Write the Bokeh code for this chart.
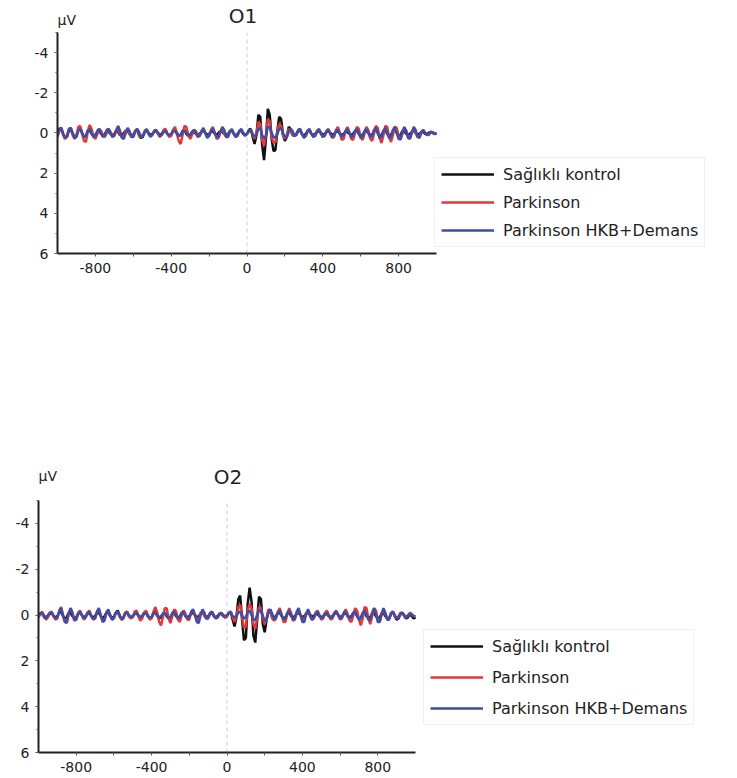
from bokeh.plotting import figure
from bokeh.models import Range1d, Label, Legend, LegendItem, FixedTicker
from bokeh.embed import file_html
from bokeh.resources import INLINE

# ---------------- data ----------------
time_ms = list(range(-1000, 1001, 10))
x_limits = (-1000, 1000)
y_limits = (-5, 6)
event_onset_ms = 0
x_ticks = [-800, -600, -400, -200, 0, 200, 400, 600, 800]
x_tick_labels = {-800: "-800", -600: "", -400: "-400", -200: "", 0: "0",
                 200: "", 400: "400", 600: "", 800: "800"}
y_ticks = [-4, -2, 0, 2, 4, 6]
y_minor_ticks = [-5, -3, -1, 1, 3, 5]
y_tick_labels = {-4: "-4", -2: "-2", 0: "0", 2: "2", 4: "4", 6: "6"}
series_names = ["Sağlıklı kontrol", "Parkinson", "Parkinson HKB+Demans"]
panel_titles = ["O1", "O2"]
unit_label = "µV"

o1_kontrol = [
    0.1, -0.2, -0.25, 0.05, 0.25, 0.2, -0.1, -0.2, 0.05, 0.2,
    0.15, -0.15, -0.25, 0.0, 0.2, 0.15, -0.1, -0.15, 0.05, 0.15,
    0.1, -0.05, -0.1, 0.05, 0.15, 0.05, -0.1, -0.05, 0.05, 0.1,
    0.05, -0.1, -0.05, 0.1, 0.15, 0.0, -0.1, -0.1, 0.05, 0.1,
    0.1, -0.1, -0.15, 0.1, 0.25, 0.2, -0.05, -0.15, 0.0, 0.1,
    0.05, -0.05, -0.1, 0.0, 0.1, 0.05, -0.1, -0.15, 0.05, 0.15,
    0.1, -0.1, -0.2, 0.0, 0.15, 0.1, -0.1, -0.15, 0.05, 0.15,
    0.1, -0.05, -0.1, 0.05, 0.1, 0.05, -0.05, -0.1, 0.0, 0.1,
    0.05, -0.05, -0.1, 0.05, 0.1, 0.0, -0.1, -0.05, 0.05, 0.1,
    0.05, -0.1, -0.1, 0.05, 0.15, 0.05, -0.1, -0.1, 0.05, 0.1,
    0.05, -0.15, -0.2, 0.2, 0.55, 0.1, -0.9, -0.8, 0.6, 1.35,
    0.3, -1.2, -0.9, 0.3, 0.9, 0.85, -0.1, -0.8, -0.7, 0.1,
    0.4, 0.2, -0.3, -0.2, 0.1, 0.15,
    0.05, -0.1, -0.1, 0.05, 0.15, 0.05, -0.1, -0.1, 0.05, 0.1,
    0.05, -0.05, -0.1, 0.0, 0.1, 0.05, -0.05, -0.1, 0.0, 0.1,
    0.05, -0.05, -0.1, 0.05, 0.1, 0.05, -0.05, -0.05, 0.05, 0.1,
    0.05, -0.1, -0.1, 0.05, 0.15, 0.1, -0.05, -0.1, 0.0, 0.1,
    0.1, -0.05, -0.15, 0.0, 0.15, 0.1, -0.1, -0.15, 0.05, 0.15,
    0.1, -0.1, -0.15, 0.0, 0.15, 0.1, -0.1, -0.1, 0.05, 0.1,
    0.05, -0.05, -0.1, 0.0, 0.1, 0.05, -0.05, -0.05, 0.05, 0.05,
    0.0, -0.05, 0.0, 0.05, 0.0,
]

o1_parkinson = [
    0.2, -0.1, -0.25, 0.1, 0.3, 0.15, -0.2, -0.25, 0.1, 0.3,
    0.1, -0.3, -0.35, 0.05, 0.4, 0.45, -0.1, -0.4, -0.2, 0.2,
    0.3, 0.05, -0.2, -0.1, 0.15, 0.2, 0.0, -0.2, -0.05, 0.15,
    0.1, -0.1, -0.15, 0.05, 0.2, 0.1, -0.1, -0.15, 0.05, 0.2,
    0.1, -0.1, -0.2, 0.05, 0.2, 0.15, -0.1, -0.15, 0.05, 0.15,
    0.1, -0.1, -0.15, 0.05, 0.2, 0.1, -0.15, -0.2, 0.05, 0.2,
    0.15, -0.15, -0.3, 0.05, 0.4, 0.55, 0.1, -0.35, -0.3, 0.1,
    0.3, 0.1, -0.15, -0.1, 0.1, 0.15, -0.05, -0.2, 0.0, 0.2,
    0.15, -0.15, -0.3, 0.0, 0.3, 0.25, -0.1, -0.2, 0.05, 0.2,
    0.1, -0.1, -0.15, 0.05, 0.2, 0.1, -0.1, -0.15, 0.0, 0.1,
    0.05, -0.1, -0.15, 0.1, 0.3, 0.0, -0.55, -0.45, 0.35, 0.65,
    0.1, -0.7, -0.55, 0.2, 0.5, 0.45, -0.05, -0.45, -0.35, 0.1,
    0.3, 0.1, -0.2, -0.1, 0.1, 0.15,
    0.1, -0.1, -0.2, 0.05, 0.2, 0.15, -0.1, -0.15, 0.05, 0.15,
    0.1, -0.1, -0.15, 0.05, 0.2, 0.1, -0.1, -0.2, 0.05, 0.25,
    0.2, -0.15, -0.3, 0.0, 0.35, 0.3, -0.1, -0.3, -0.05, 0.3,
    0.35, 0.0, -0.3, -0.2, 0.2, 0.35, 0.05, -0.3, -0.15, 0.25,
    0.4, 0.05, -0.35, -0.25, 0.25, 0.5, 0.1, -0.35, -0.3, 0.2,
    0.45, 0.1, -0.3, -0.25, 0.15, 0.35, 0.05, -0.25, -0.1, 0.2,
    0.25, -0.05, -0.2, 0.0, 0.2, 0.15, -0.05, -0.15, 0.0, 0.1,
    0.1, -0.05, -0.05, 0.05, 0.05,
]

o1_hkb_demans = [
    0.05, -0.15, -0.2, 0.05, 0.25, 0.15, -0.15, -0.25, 0.0, 0.25,
    0.2, -0.1, -0.2, 0.0, 0.2, 0.15, -0.1, -0.2, 0.0, 0.2,
    0.15, -0.1, -0.2, 0.0, 0.2, 0.1, -0.15, -0.2, 0.05, 0.2,
    0.15, -0.15, -0.35, -0.1, 0.25, 0.3, 0.0, -0.25, -0.1, 0.2,
    0.2, -0.05, -0.2, -0.05, 0.15, 0.15, -0.05, -0.2, 0.0, 0.2,
    0.1, -0.1, -0.15, 0.0, 0.15, 0.1, -0.05, -0.1, 0.05, 0.1,
    0.05, -0.1, -0.1, 0.05, 0.15, 0.1, -0.05, -0.1, 0.0, 0.1,
    0.1, -0.05, -0.15, 0.0, 0.2, 0.15, -0.1, -0.25, 0.0, 0.25,
    0.15, -0.1, -0.2, 0.0, 0.2, 0.2, -0.05, -0.3, -0.15, 0.2,
    0.2, -0.05, -0.2, 0.0, 0.2, 0.15, -0.1, -0.2, 0.0, 0.15,
    0.05, -0.1, -0.15, 0.05, 0.2, 0.1, -0.2, -0.25, 0.1, 0.3,
    0.15, -0.3, -0.3, 0.0, 0.2, 0.25, 0.05, -0.2, -0.25, 0.0,
    0.2, 0.2, -0.05, -0.2, -0.1, 0.15,
    0.1, -0.15, -0.2, 0.05, 0.25, 0.15, -0.1, -0.2, 0.05, 0.2,
    0.15, -0.1, -0.2, 0.0, 0.2, 0.15, -0.1, -0.15, 0.05, 0.2,
    0.1, -0.1, -0.15, 0.05, 0.2, 0.1, -0.1, -0.2, 0.0, 0.2,
    0.15, -0.1, -0.2, 0.0, 0.25, 0.2, -0.1, -0.2, 0.0, 0.2,
    0.15, -0.15, -0.25, 0.0, 0.25, 0.2, -0.1, -0.25, 0.0, 0.25,
    0.2, -0.15, -0.3, 0.0, 0.3, 0.3, -0.05, -0.3, -0.1, 0.25,
    0.3, 0.0, -0.3, -0.15, 0.2, 0.25, 0.0, -0.15, 0.0, 0.1,
    0.05, -0.05, 0.0, 0.05, 0.0,
]

o2_kontrol = [
    0.05, -0.05, -0.1, 0.05, 0.1, 0.05, -0.05, -0.1, 0.05, 0.1,
    0.05, -0.1, -0.15, 0.05, 0.15, 0.1, -0.1, -0.1, 0.05, 0.15,
    0.1, -0.05, -0.1, 0.0, 0.1, 0.05, -0.05, -0.1, 0.05, 0.1,
    0.05, -0.1, -0.1, 0.05, 0.15, 0.05, -0.1, -0.1, 0.05, 0.1,
    0.1, -0.1, -0.2, 0.0, 0.2, 0.15, -0.1, -0.15, 0.05, 0.1,
    0.05, -0.05, -0.1, 0.05, 0.1, 0.05, -0.1, -0.1, 0.05, 0.15,
    0.1, -0.1, -0.15, 0.0, 0.15, 0.1, -0.05, -0.1, 0.05, 0.15,
    0.1, -0.05, -0.1, 0.05, 0.15, 0.05, -0.1, -0.1, 0.05, 0.1,
    0.05, -0.05, -0.1, 0.0, 0.1, 0.05, -0.05, -0.1, 0.0, 0.1,
    0.05, -0.05, -0.1, 0.05, 0.1, 0.05, -0.05, -0.05, 0.05, 0.1,
    0.05, -0.1, -0.15, 0.2, 0.5, 0.1, -0.7, -0.85, 0.2, 1.1,
    1.0, -0.5, -1.2, -0.6, 0.9, 1.2, 0.2, -0.8, -0.7, 0.4,
    0.75, 0.2, -0.2, -0.15, 0.1, 0.1,
    0.05, -0.1, -0.1, 0.05, 0.15, 0.1, -0.05, -0.1, 0.05, 0.1,
    0.05, -0.05, -0.1, 0.0, 0.1, 0.05, -0.05, -0.1, 0.0, 0.05,
    0.05, -0.05, -0.05, 0.05, 0.1, 0.05, -0.05, -0.05, 0.05, 0.1,
    0.05, -0.05, -0.1, 0.0, 0.1, 0.05, -0.05, -0.1, 0.05, 0.1,
    0.05, -0.1, -0.1, 0.05, 0.15, 0.1, -0.05, -0.1, 0.05, 0.1,
    0.1, -0.05, -0.1, 0.05, 0.15, 0.1, -0.05, -0.1, 0.05, 0.15,
    0.15, -0.05, -0.15, 0.05, 0.2, 0.15, -0.05, -0.1, 0.05, 0.15,
    0.1, -0.05, 0.05, 0.15, 0.1,
]

o2_parkinson = [
    0.1, -0.05, -0.15, 0.05, 0.2, 0.1, -0.1, -0.15, 0.05, 0.2,
    0.15, -0.2, -0.35, 0.0, 0.3, 0.35, -0.05, -0.3, -0.1, 0.25,
    0.2, -0.1, -0.2, 0.0, 0.2, 0.1, -0.1, -0.2, 0.05, 0.2,
    0.15, -0.1, -0.25, 0.0, 0.25, 0.2, -0.1, -0.2, 0.0, 0.2,
    0.1, -0.1, -0.15, 0.05, 0.2, 0.1, -0.1, -0.15, 0.05, 0.15,
    0.1, -0.15, -0.2, 0.05, 0.25, 0.15, -0.1, -0.2, 0.0, 0.2,
    0.15, -0.15, -0.35, -0.1, 0.3, 0.45, 0.1, -0.3, -0.3, 0.15,
    0.35, 0.05, -0.25, -0.15, 0.2, 0.3, 0.0, -0.2, -0.05, 0.2,
    0.2, -0.1, -0.2, 0.0, 0.2, 0.15, -0.1, -0.15, 0.05, 0.15,
    0.1, -0.1, -0.15, 0.05, 0.15, 0.1, -0.05, -0.1, 0.05, 0.1,
    0.05, -0.1, -0.15, 0.1, 0.3, 0.05, -0.35, -0.45, 0.1, 0.55,
    0.5, -0.2, -0.5, -0.3, 0.4, 0.6, 0.1, -0.35, -0.3, 0.15,
    0.4, 0.1, -0.25, -0.2, 0.15, 0.25,
    0.15, -0.15, -0.3, 0.0, 0.3, 0.3, -0.05, -0.3, -0.1, 0.25,
    0.2, -0.1, -0.2, 0.0, 0.2, 0.15, -0.1, -0.15, 0.05, 0.2,
    0.15, -0.1, -0.2, 0.0, 0.2, 0.15, -0.1, -0.2, 0.0, 0.2,
    0.15, -0.1, -0.2, 0.0, 0.2, 0.15, -0.1, -0.25, -0.05, 0.25,
    0.3, 0.0, -0.3, -0.2, 0.2, 0.45, 0.15, -0.35, -0.3, 0.15,
    0.4, 0.05, -0.3, -0.2, 0.2, 0.3, 0.0, -0.2, -0.05, 0.15,
    0.15, -0.1, -0.15, 0.05, 0.15, 0.05, -0.1, -0.1, 0.05, 0.1,
    0.0, -0.1, -0.05, 0.05, 0.05,
]

o2_hkb_demans = [
    0.05, -0.1, -0.05, 0.1, 0.15, 0.0, -0.1, -0.1, 0.05, 0.15,
    0.1, -0.15, -0.3, 0.0, 0.3, 0.3, -0.05, -0.3, -0.1, 0.2,
    0.2, -0.05, -0.15, 0.0, 0.15, 0.1, -0.1, -0.15, 0.05, 0.15,
    0.15, -0.15, -0.3, 0.0, 0.3, 0.25, -0.1, -0.25, 0.0, 0.2,
    0.15, -0.1, -0.15, 0.05, 0.15, 0.1, -0.05, -0.1, 0.0, 0.1,
    0.05, -0.05, -0.1, 0.0, 0.1, 0.05, -0.05, -0.1, 0.05, 0.1,
    0.1, -0.05, -0.1, 0.05, 0.1, 0.05, -0.05, -0.1, 0.0, 0.1,
    0.1, -0.1, -0.15, 0.0, 0.15, 0.1, -0.1, -0.15, 0.05, 0.15,
    0.1, -0.15, -0.25, 0.0, 0.3, 0.35, 0.0, -0.25, -0.1, 0.15,
    0.15, -0.05, -0.15, 0.0, 0.15, 0.1, -0.05, -0.1, 0.0, 0.05,
    0.0, -0.1, -0.1, 0.05, 0.1, 0.05, -0.1, -0.15, 0.0, 0.15,
    0.1, -0.15, -0.2, 0.0, 0.2, 0.2, 0.0, -0.2, -0.2, 0.05,
    0.25, 0.2, -0.1, -0.25, -0.05, 0.2,
    0.1, -0.1, -0.2, 0.0, 0.2, 0.15, -0.1, -0.2, 0.0, 0.2,
    0.15, -0.15, -0.3, 0.0, 0.3, 0.3, -0.05, -0.25, -0.05, 0.2,
    0.15, -0.05, -0.15, 0.0, 0.15, 0.1, -0.05, -0.1, 0.05, 0.1,
    0.1, -0.1, -0.15, 0.0, 0.15, 0.1, -0.1, -0.15, 0.05, 0.15,
    0.1, -0.1, -0.15, 0.05, 0.2, 0.15, -0.1, -0.2, 0.0, 0.2,
    0.2, -0.1, -0.3, -0.05, 0.3, 0.3, -0.05, -0.3, -0.1, 0.2,
    0.2, -0.05, -0.15, 0.0, 0.15, 0.1, -0.05, -0.1, 0.0, 0.1,
    0.05, -0.05, 0.0, 0.05, 0.05,
]

for s in (o1_kontrol, o1_parkinson, o1_hkb_demans, o2_kontrol, o2_parkinson, o2_hkb_demans):
    assert len(s) == len(time_ms), len(s)

# ---------------- styling / layout ----------------
colors = ["#111111", "#e2383a", "#3c4ea6"]
FONT = "DejaVu Sans"
PAGE_W = 737
FRAME_RIGHT = 735


def make_panel(title, series, fig_top, fig_h, axis_x, right_x,
               ax_top, ax_bottom, frame_top, title_off, uv_off, leg_page, leg_spacing):
    # pixel scale derived from where the axes sit on the page
    ms_per_px = (x_limits[1] - x_limits[0]) / (right_x - axis_x)
    uv_per_px = (y_limits[1] - y_limits[0]) / (ax_bottom - ax_top)
    x_end = x_limits[1] + (FRAME_RIGHT - right_x) * ms_per_px
    y_top = y_limits[0] - (ax_top - frame_top) * uv_per_px

    p = figure(width=PAGE_W, height=fig_h, output_backend="svg", toolbar_location=None,
               x_range=Range1d(x_limits[0], x_end),
               y_range=Range1d(y_limits[1], y_top),
               min_border_left=axis_x, min_border_right=PAGE_W - FRAME_RIGHT,
               min_border_top=frame_top - fig_top,
               min_border_bottom=fig_top + fig_h - ax_bottom,
               background_fill_color="white", border_fill_color="white")
    p.outline_line_color = None
    p.xgrid.visible = False
    p.ygrid.visible = False

    for ax in (p.xaxis[0], p.yaxis[0]):
        ax.axis_line_width = 2
        ax.axis_line_color = "#222222"
        ax.major_tick_line_color = "#555555"
        ax.minor_tick_line_color = "#555555"
        ax.major_tick_in = 0
        ax.major_tick_out = 3
        ax.minor_tick_in = 0
        ax.minor_tick_out = 2
        ax.major_label_text_font = FONT
        ax.major_label_text_font_size = "14px"
        ax.major_label_text_color = "#222222"
    p.xaxis.major_label_standoff = 6
    p.yaxis.major_label_standoff = 6
    p.xaxis.ticker = FixedTicker(ticks=x_ticks)
    p.xaxis.major_label_overrides = x_tick_labels
    p.xaxis.bounds = x_limits
    p.yaxis.ticker = FixedTicker(ticks=y_ticks, minor_ticks=y_minor_ticks)
    p.yaxis.major_label_overrides = y_tick_labels
    p.yaxis.bounds = (y_limits[0], y_limits[1])

    # stimulus-onset reference line
    p.segment(x0=[event_onset_ms], y0=[y_limits[1]], x1=[event_onset_ms], y1=[y_limits[0]],
              line_color="#cfcfcf", line_dash="4 3", line_width=1)

    items = []
    for name, vals, c in zip(series_names, series, colors):
        r = p.line(time_ms, vals, line_color=c, line_width=2.5)
        items.append(LegendItem(label=name, renderers=[r]))

    leg = Legend(items=items,
                 location=(leg_page[0] - axis_x, ax_bottom - leg_page[1]),
                 orientation="vertical",
                 label_text_font=FONT, label_text_font_size="16px",
                 label_text_color="#222222",
                 glyph_width=53, glyph_height=20, label_height=20,
                 label_standoff=9, spacing=leg_spacing, padding=6, margin=0,
                 border_line_color="#e2e2e2", border_line_width=1,
                 background_fill_color="white", background_fill_alpha=1.0)
    p.add_layout(leg)

    p.add_layout(Label(x=0, y=y_limits[0], x_offset=title_off[0], y_offset=title_off[1],
                       text=title, text_align="center", text_baseline="middle",
                       text_font=FONT, text_font_size="20px", text_color="#222222"))
    p.add_layout(Label(x=x_limits[0], y=y_limits[0], x_offset=uv_off[0], y_offset=uv_off[1],
                       text=unit_label, text_align="left", text_baseline="middle",
                       text_font=FONT, text_font_size="14px", text_color="#222222"))
    return p


p1 = make_panel(panel_titles[0], [o1_kontrol, o1_parkinson, o1_hkb_demans],
                fig_top=0, fig_h=400, axis_x=57, right_x=436,
                ax_top=32, ax_bottom=253, frame_top=4,
                title_off=(-4, 17), uv_off=(0, 13), leg_page=(434, 247), leg_spacing=8)
p2 = make_panel(panel_titles[1], [o2_kontrol, o2_parkinson, o2_hkb_demans],
                fig_top=400, fig_h=376, axis_x=38, right_x=415,
                ax_top=500, ax_bottom=752, frame_top=462,
                title_off=(1, 24), uv_off=(0, 25), leg_page=(423, 725), leg_spacing=11)

# two independent roots, stacked in the page, so each keeps its own frame position
open("out.html", "w").write(file_html([p1, p2], INLINE))
